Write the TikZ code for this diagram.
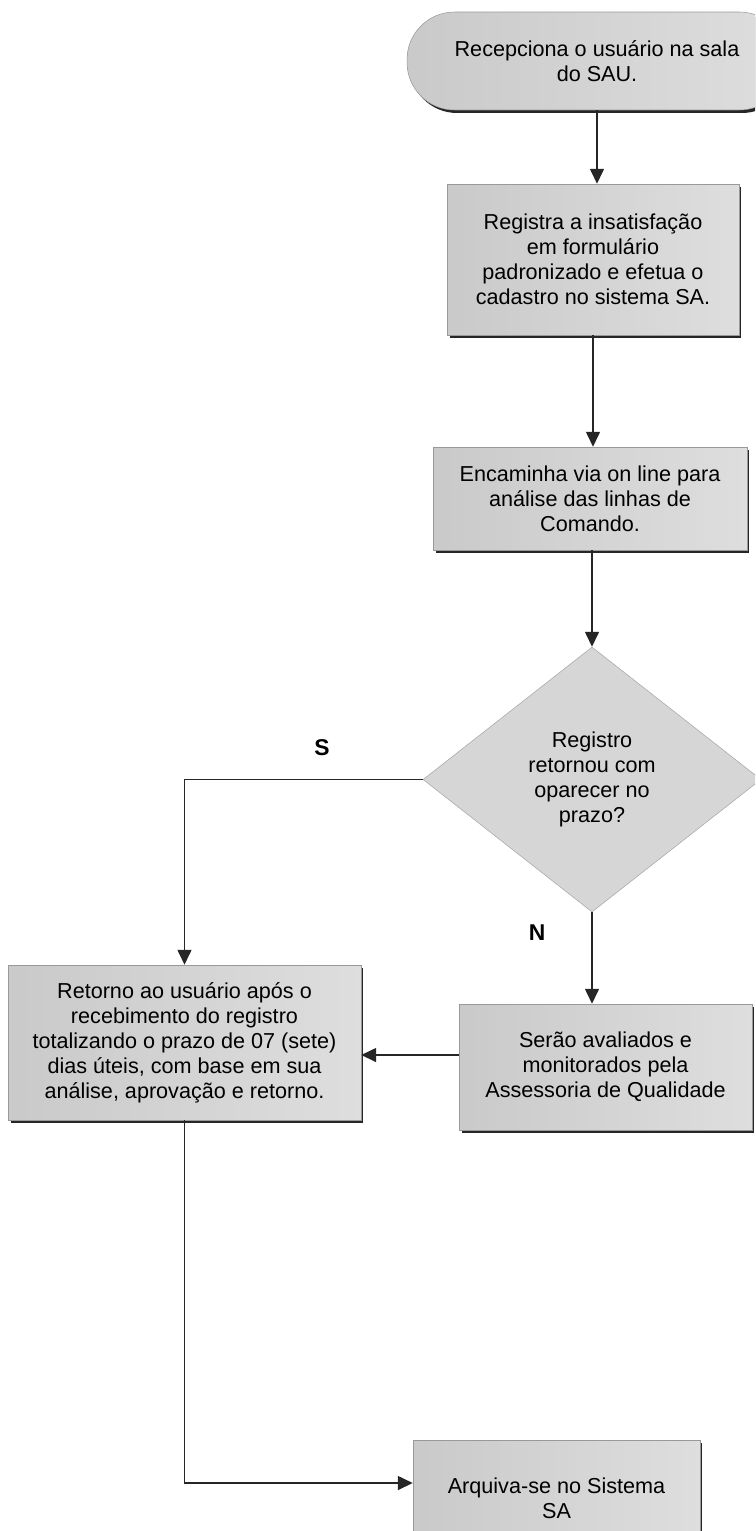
\documentclass[tikz,border=0pt]{standalone}
\usepackage{fontspec}
\setmainfont{Liberation Sans}
\usetikzlibrary{arrows.meta, shapes.geometric, shadows}

\begin{document}
\begin{tikzpicture}[x=0.02cm, y=-0.02cm,
                font=\fontsize{12.3}{14.2}\selectfont,
                box/.style={rectangle, draw=black!40, line width=0.3pt, left color=black!21, right color=black!13, align=center, inner sep=2pt,
                    drop shadow={shadow xshift=0.05cm, shadow yshift=-0.06cm, fill=black!85, opacity=1}},
                term/.style={box, rounded corners=0.95cm},
                decision/.style={diamond, draw=black!35, line width=0.3pt, fill=black!16, align=center, inner sep=0pt, aspect=1.28},
                edge/.style={line width=0.9pt, black!85, -{Triangle[length=0.3cm, width=0.28cm]}},
                lbl/.style={font=\fontsize{13}{15}\selectfont\bfseries}
            ]
            \useasboundingbox (0,0) rectangle (755,1531);
            \clip (0,0) rectangle (755,1531);

            \node[term, minimum width=7.6cm, minimum height=1.96cm] (recep) at (597,61) {Recepciona o usuário na sala\\do SAU.};
            \node[box, minimum width=5.84cm, minimum height=3.02cm] (regist) at (593,259.5) {Registra a insatisfação\\em formulário\\padronizado e efetua o\\cadastro no sistema SA.};
            \node[box, minimum width=6.28cm, minimum height=2.06cm] (encam) at (590,498.5) {Encaminha via on line para\\análise das linhas de\\Comando.};
            \node[decision, minimum width=6.76cm, minimum height=5.3cm] (prazo) at (592,779.5) {Registro\\retornou com\\oparecer no\\prazo?};
            \node[box, minimum width=7.06cm, minimum height=3.1cm] (retorno) at (184.5,1042.5) {Retorno ao usuário após o\\recebimento do registro\\totalizando o prazo de 07 (sete)\\dias úteis, com base em sua\\análise, aprovação e retorno.};
            \node[box, minimum width=5.86cm, minimum height=2.52cm] (avalia) at (605.5,1067) {Serão avaliados e\\monitorados pela\\Assessoria de Qualidade};
            \node[box, minimum width=5.74cm, minimum height=2.32cm] (arquiva) at (556.5,1498) {Arquiva-se no Sistema\\SA};

            \node[lbl] (sim) at (322,748) {S};
            \node[lbl] (nao) at (537,933) {N};

            \draw[edge] (recep.south) -- (recep.south |- regist.north);
            \draw[edge] (regist.south) -- (regist.south |- encam.north);
            \draw[edge] (prazo.north |- encam.south) -- (prazo.north);
            \draw[edge] (prazo.west) -| (retorno.north);
            \draw[edge] (prazo.south) -- (prazo.south |- avalia.north);
            \draw[edge] ([yshift=0.24cm]avalia.west) -- ([yshift=0.24cm]avalia.west -| retorno.east);
            \draw[edge] (retorno.south) |- ([yshift=0.3cm]arquiva.west);
            \end{tikzpicture}
\end{document}
